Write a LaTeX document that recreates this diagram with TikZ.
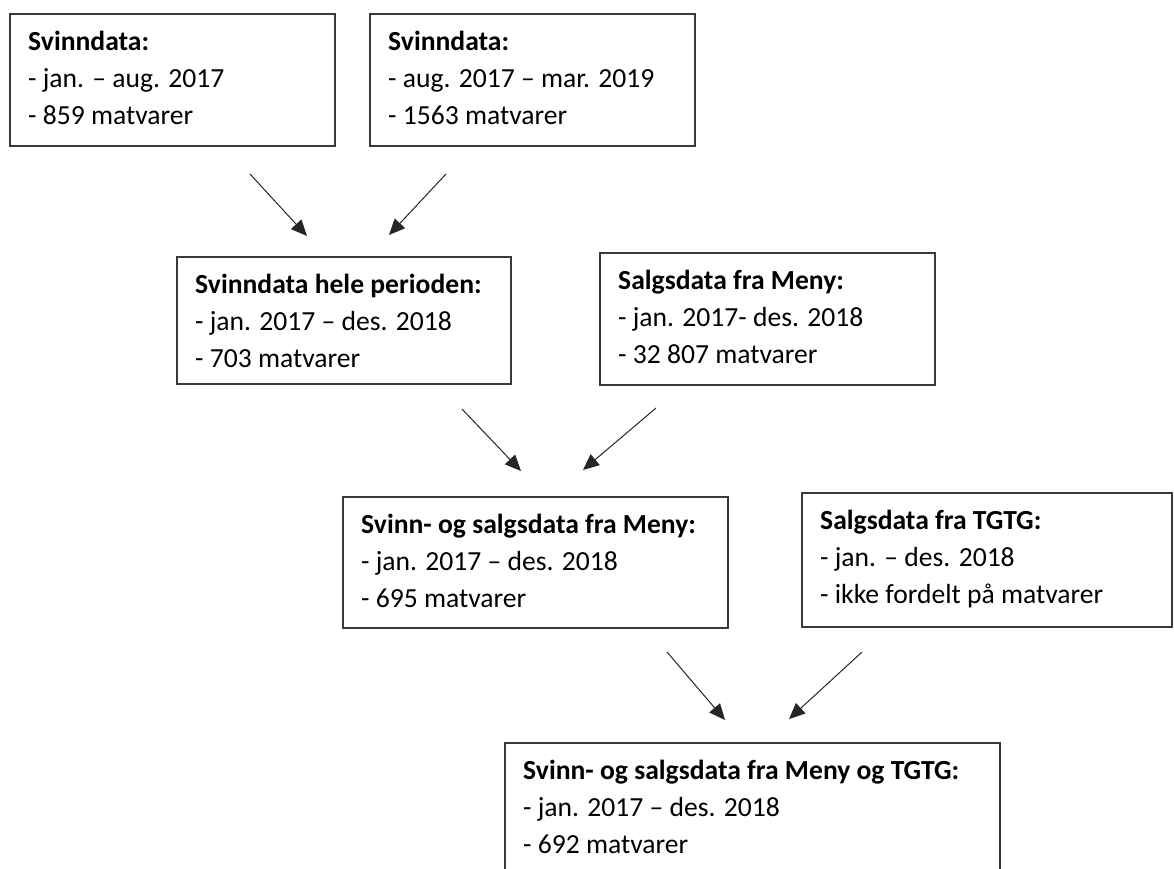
\documentclass[tikz,border=0pt]{standalone}
\usepackage{fontspec}
\setmainfont{Carlito}
\usetikzlibrary{arrows.meta}
\definecolor{boxc}{HTML}{3A3A3A}
\definecolor{arrc}{HTML}{262626}
\tikzset{
  box/.style={draw=boxc, line width=1.4pt, rectangle, inner sep=0pt},
  txt/.style={anchor=north west, inner sep=0pt, align=left, font=\fontsize{27.6}{37}\selectfont},
  arr/.style={draw=arrc, line width=1pt, -{Triangle[length=16pt,width=14pt]}}
}
\newcommand{\mybox}[6]{% name, left, top, right, bottom, text
  \node[box, minimum width={(#4-#2)*1pt}, minimum height={(#5-#3)*1pt}] (#1) at ({(#2+#4)/2},{(#3+#5)/2}) {};
  \node[txt] (#1t) at ({#2+18},{#3+10}) {#6};
}
\begin{document}
\begin{tikzpicture}[x=1pt,y=-1pt]
\clip (0,0) rectangle (1174,868);
\fill[white] (0,0) rectangle (1174,868);
\mybox{b1}{10}{14}{335}{146}{\strut\textbf{Svinndata:}\\- jan. – aug. 2017\\- 859 matvarer}
\mybox{b2}{370}{14}{695}{146}{\strut\textbf{Svinndata:}\\- aug. 2017 – mar. 2019\\- 1563 matvarer}
\mybox{b3}{177}{257}{511}{384}{\strut\textbf{Svinndata hele perioden:}\\- jan. 2017 – des. 2018\\- 703 matvarer}
\mybox{b4}{600}{253}{935}{385}{\strut\textbf{Salgsdata fra Meny:}\\- jan. 2017- des. 2018\\- 32 807 matvarer}
\mybox{b5}{343}{497}{728}{628}{\strut\textbf{Svinn- og salgsdata fra Meny:}\\- jan. 2017 – des. 2018\\- 695 matvarer}
\mybox{b6}{802}{493}{1172}{627}{\strut\textbf{Salgsdata fra TGTG:}\\- jan. – des. 2018\\- ikke fordelt på matvarer}
\mybox{b7}{505}{743}{1000}{900}{\strut\textbf{Svinn- og salgsdata fra Meny og TGTG:}\\- jan. 2017 – des. 2018\\- 692 matvarer}
\coordinate (a1s) at (250,174); \coordinate (a1e) at (307,236);
\coordinate (a2s) at (446,174); \coordinate (a2e) at (389,235);
\coordinate (a3s) at (462,409); \coordinate (a3e) at (521,471);
\coordinate (a4s) at (656,408); \coordinate (a4e) at (583,470);
\coordinate (a5s) at (667,652); \coordinate (a5e) at (725,720);
\coordinate (a6s) at (862,652); \coordinate (a6e) at (789,719);
\draw[arr] (a1s) -- (a1e);
\draw[arr] (a2s) -- (a2e);
\draw[arr] (a3s) -- (a3e);
\draw[arr] (a4s) -- (a4e);
\draw[arr] (a5s) -- (a5e);
\draw[arr] (a6s) -- (a6e);
\end{tikzpicture}
\end{document}
